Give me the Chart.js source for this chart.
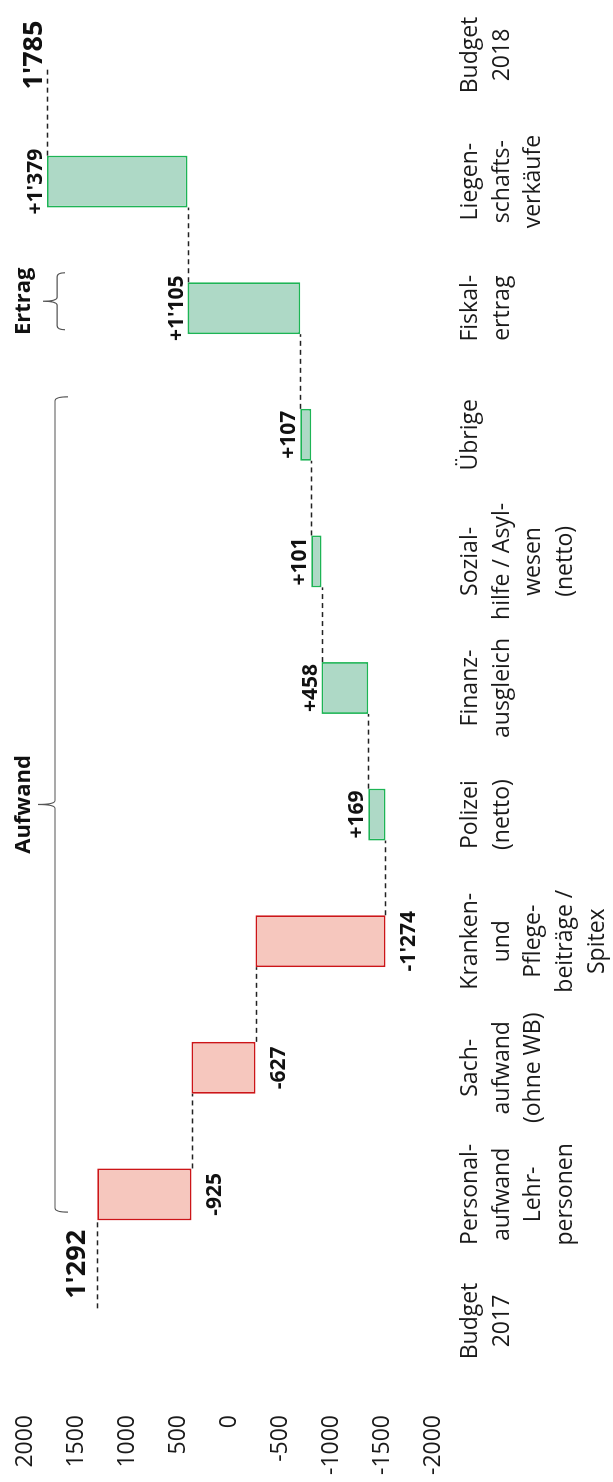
<!DOCTYPE html>
<html lang="de">
<head>
    <meta charset="UTF-8">
    <title>Budget 2017 - Budget 2018</title>
    <script src="https://cdn.jsdelivr.net/npm/chart.js"></script>
    <style>
        html, body { margin: 0; padding: 0; background: #fff; }
        #wrap { position: relative; width: 613px; height: 1482px; overflow: hidden; }
        /* the chart is drawn landscape and turned a quarter to the left */
        #rot { position: absolute; left: 0; top: 1482px; width: 1482px; height: 613px;
               transform-origin: 0 0; transform: rotate(-90deg); }
    </style>
</head>
<body>
<div id="wrap">
    <div id="rot"><canvas id="chart" width="1482" height="613"></canvas></div>
</div>

<script>
    // Daten
    const categories = [
        ['Budget', '2017'],
        ['Personal-', 'aufwand', 'Lehr-', 'personen'],
        ['Sach-', 'aufwand', '(ohne WB)'],
        ['Kranken-', 'und', 'Pflege-', 'beiträge /', 'Spitex'],
        ['Polizei', '(netto)'],
        ['Finanz-', 'ausgleich'],
        ['Sozial-', 'hilfe / Asyl-', 'wesen', '(netto)'],
        ['Übrige'],
        ['Fiskal-', 'ertrag'],
        ['Liegen-', 'schafts-', 'verkäufe'],
        ['Budget', '2018']
    ];
    const budget2017 = 1292;
    const changes = [-925, -627, -1274, 169, 458, 101, 107, 1105, 1379];
    const budget2018 = 1785;
    const axisMin = -2000, axisMax = 2000, axisStep = 500;

    // Klammern (von/bis in Kategorie-Positionen)
    const braces = [
        { label: 'Aufwand', from: 0.86, to: 7.30, line: 1706, hook: 1578, tip: 1873 },
        { label: 'Ertrag', from: 7.83, to: 8.28, line: 1686, hook: 1608, tip: 1824 }
    ];

    // Stände nach jedem Schritt
    const levels = [budget2017];
    changes.forEach(c => levels.push(levels[levels.length - 1] + c));

    const barData = [null, ...changes.map((c, i) => [levels[i], levels[i + 1]]), null];
    const fillColors = [null, ...changes.map(c => c < 0 ? '#F6C7BE' : '#AED9C6'), null];
    const lineColors = [null, ...changes.map(c => c < 0 ? '#CC1518' : '#1DB455'), null];

    function fmt(n, sign) {
        const s = Math.abs(n).toString().replace(/\B(?=(\d{3})+(?!\d))/g, "'");
        if (!sign) return s;
        return (n < 0 ? '-' : '+') + s;
    }

    const FONT = '"Open Sans", "DejaVu Sans", sans-serif';
    Chart.defaults.font.family = FONT;
    Chart.defaults.color = '#1a1a1a';

    const extras = {
        id: 'extras',
        afterDatasetsDraw(chart) {
            const { ctx, scales: { x, y } } = chart;
            const bars = chart.getDatasetMeta(0).data;
            const half = bars[1].width / 2;
            const step = x.getPixelForValue(1) - x.getPixelForValue(0);
            const last = categories.length - 1;
            ctx.save();

            // gestrichelte Verbindungen
            ctx.setLineDash([5, 4]);
            ctx.strokeStyle = '#222';
            ctx.lineWidth = 1.3;
            const con = [];
            for (let i = 0; i < last; i++) {
                const u1 = i === 0 ? x.getPixelForValue(0) + step * 0.1 : x.getPixelForValue(i) + half;
                const u2 = i + 1 === last ? x.getPixelForValue(last) - step * 0.1 : x.getPixelForValue(i + 1) - half;
                const v = Math.round(y.getPixelForValue(levels[i])) + 0.5;
                con.push([u1, u2]);
                ctx.beginPath();
                ctx.moveTo(u1, v);
                ctx.lineTo(u2, v);
                ctx.stroke();
            }
            ctx.setLineDash([]);

            // Werte an den Balken
            ctx.fillStyle = '#111';
            ctx.textAlign = 'center';
            ctx.font = 'bold 21px ' + FONT;
            changes.forEach((c, k) => {
                const u = x.getPixelForValue(k + 1);
                const v = y.getPixelForValue(levels[k + 1]);
                if (c < 0) {
                    ctx.textBaseline = 'top';
                    ctx.fillText(fmt(c, true), u, v + 13);
                } else {
                    ctx.textBaseline = 'alphabetic';
                    ctx.fillText(fmt(c, true), u, v - 5);
                }
            });

            // Budgetwerte
            ctx.font = 'bold 27px ' + FONT;
            ctx.textBaseline = 'alphabetic';
            ctx.fillText(fmt(budget2017), (con[0][0] + con[0][1]) / 2, y.getPixelForValue(budget2017) - 12);
            ctx.fillText(fmt(budget2018), x.getPixelForValue(last), y.getPixelForValue(budget2018) - 5);

            // Klammern
            ctx.strokeStyle = '#555';
            ctx.lineWidth = 1.2;
            braces.forEach(b => {
                const u1 = x.getPixelForValue(b.from), u2 = x.getPixelForValue(b.to);
                const um = (u1 + u2) / 2;
                const vl = y.getPixelForValue(b.line), vh = y.getPixelForValue(b.hook), vt = y.getPixelForValue(b.tip);
                const r = 4;
                ctx.beginPath();
                ctx.moveTo(u1, vh);
                ctx.quadraticCurveTo(u1, vl, u1 + r, vl);
                ctx.lineTo(um - r, vl);
                ctx.quadraticCurveTo(um, vl, um, vt);
                ctx.quadraticCurveTo(um, vl, um + r, vl);
                ctx.lineTo(u2 - r, vl);
                ctx.quadraticCurveTo(u2, vl, u2, vh);
                ctx.stroke();

                ctx.font = 'bold 22px ' + FONT;
                ctx.fillStyle = '#111';
                ctx.textBaseline = 'alphabetic';
                ctx.fillText(b.label, um, y.getPixelForValue(1951));
            });
            ctx.restore();
        }
    };

    new Chart(document.getElementById('chart'), {
        type: 'bar',
        data: {
            labels: categories,
            datasets: [{
                data: barData,
                backgroundColor: fillColors,
                borderColor: lineColors,
                borderWidth: 1.8,
                borderSkipped: false,
                barPercentage: 0.41,
                categoryPercentage: 1
            }]
        },
        options: {
            responsive: false,
            animation: false,
            devicePixelRatio: 1,
            layout: { padding: { top: 25, right: 55, bottom: 0, left: 0 } },
            plugins: { legend: { display: false }, tooltip: { enabled: false } },
            scales: {
                x: {
                    offset: false,
                    grid: { display: false },
                    border: { display: false },
                    ticks: {
                        autoSkip: false, maxRotation: 0, minRotation: 0,
                        padding: 13,
                        color: '#1a1a1a',
                        font: { size: 23, lineHeight: 1.39 }
                    },
                    afterFit(scale) {
                        scale.height = 180;
                        scale.paddingLeft = 0;
                        scale.paddingRight = 0;
                    }
                },
                y: {
                    min: axisMin, max: axisMax,
                    grid: { display: false },
                    border: { display: false },
                    ticks: {
                        stepSize: axisStep,
                        padding: 86,
                        color: '#1a1a1a',
                        font: { size: 23 },
                        callback: v => String(v)
                    },
                    afterFit(scale) {
                        scale.width = 161;
                        scale.paddingTop = 0;
                        scale.paddingBottom = 0;
                    }
                }
            }
        },
        plugins: [extras]
    });
</script>
</body>
</html>
